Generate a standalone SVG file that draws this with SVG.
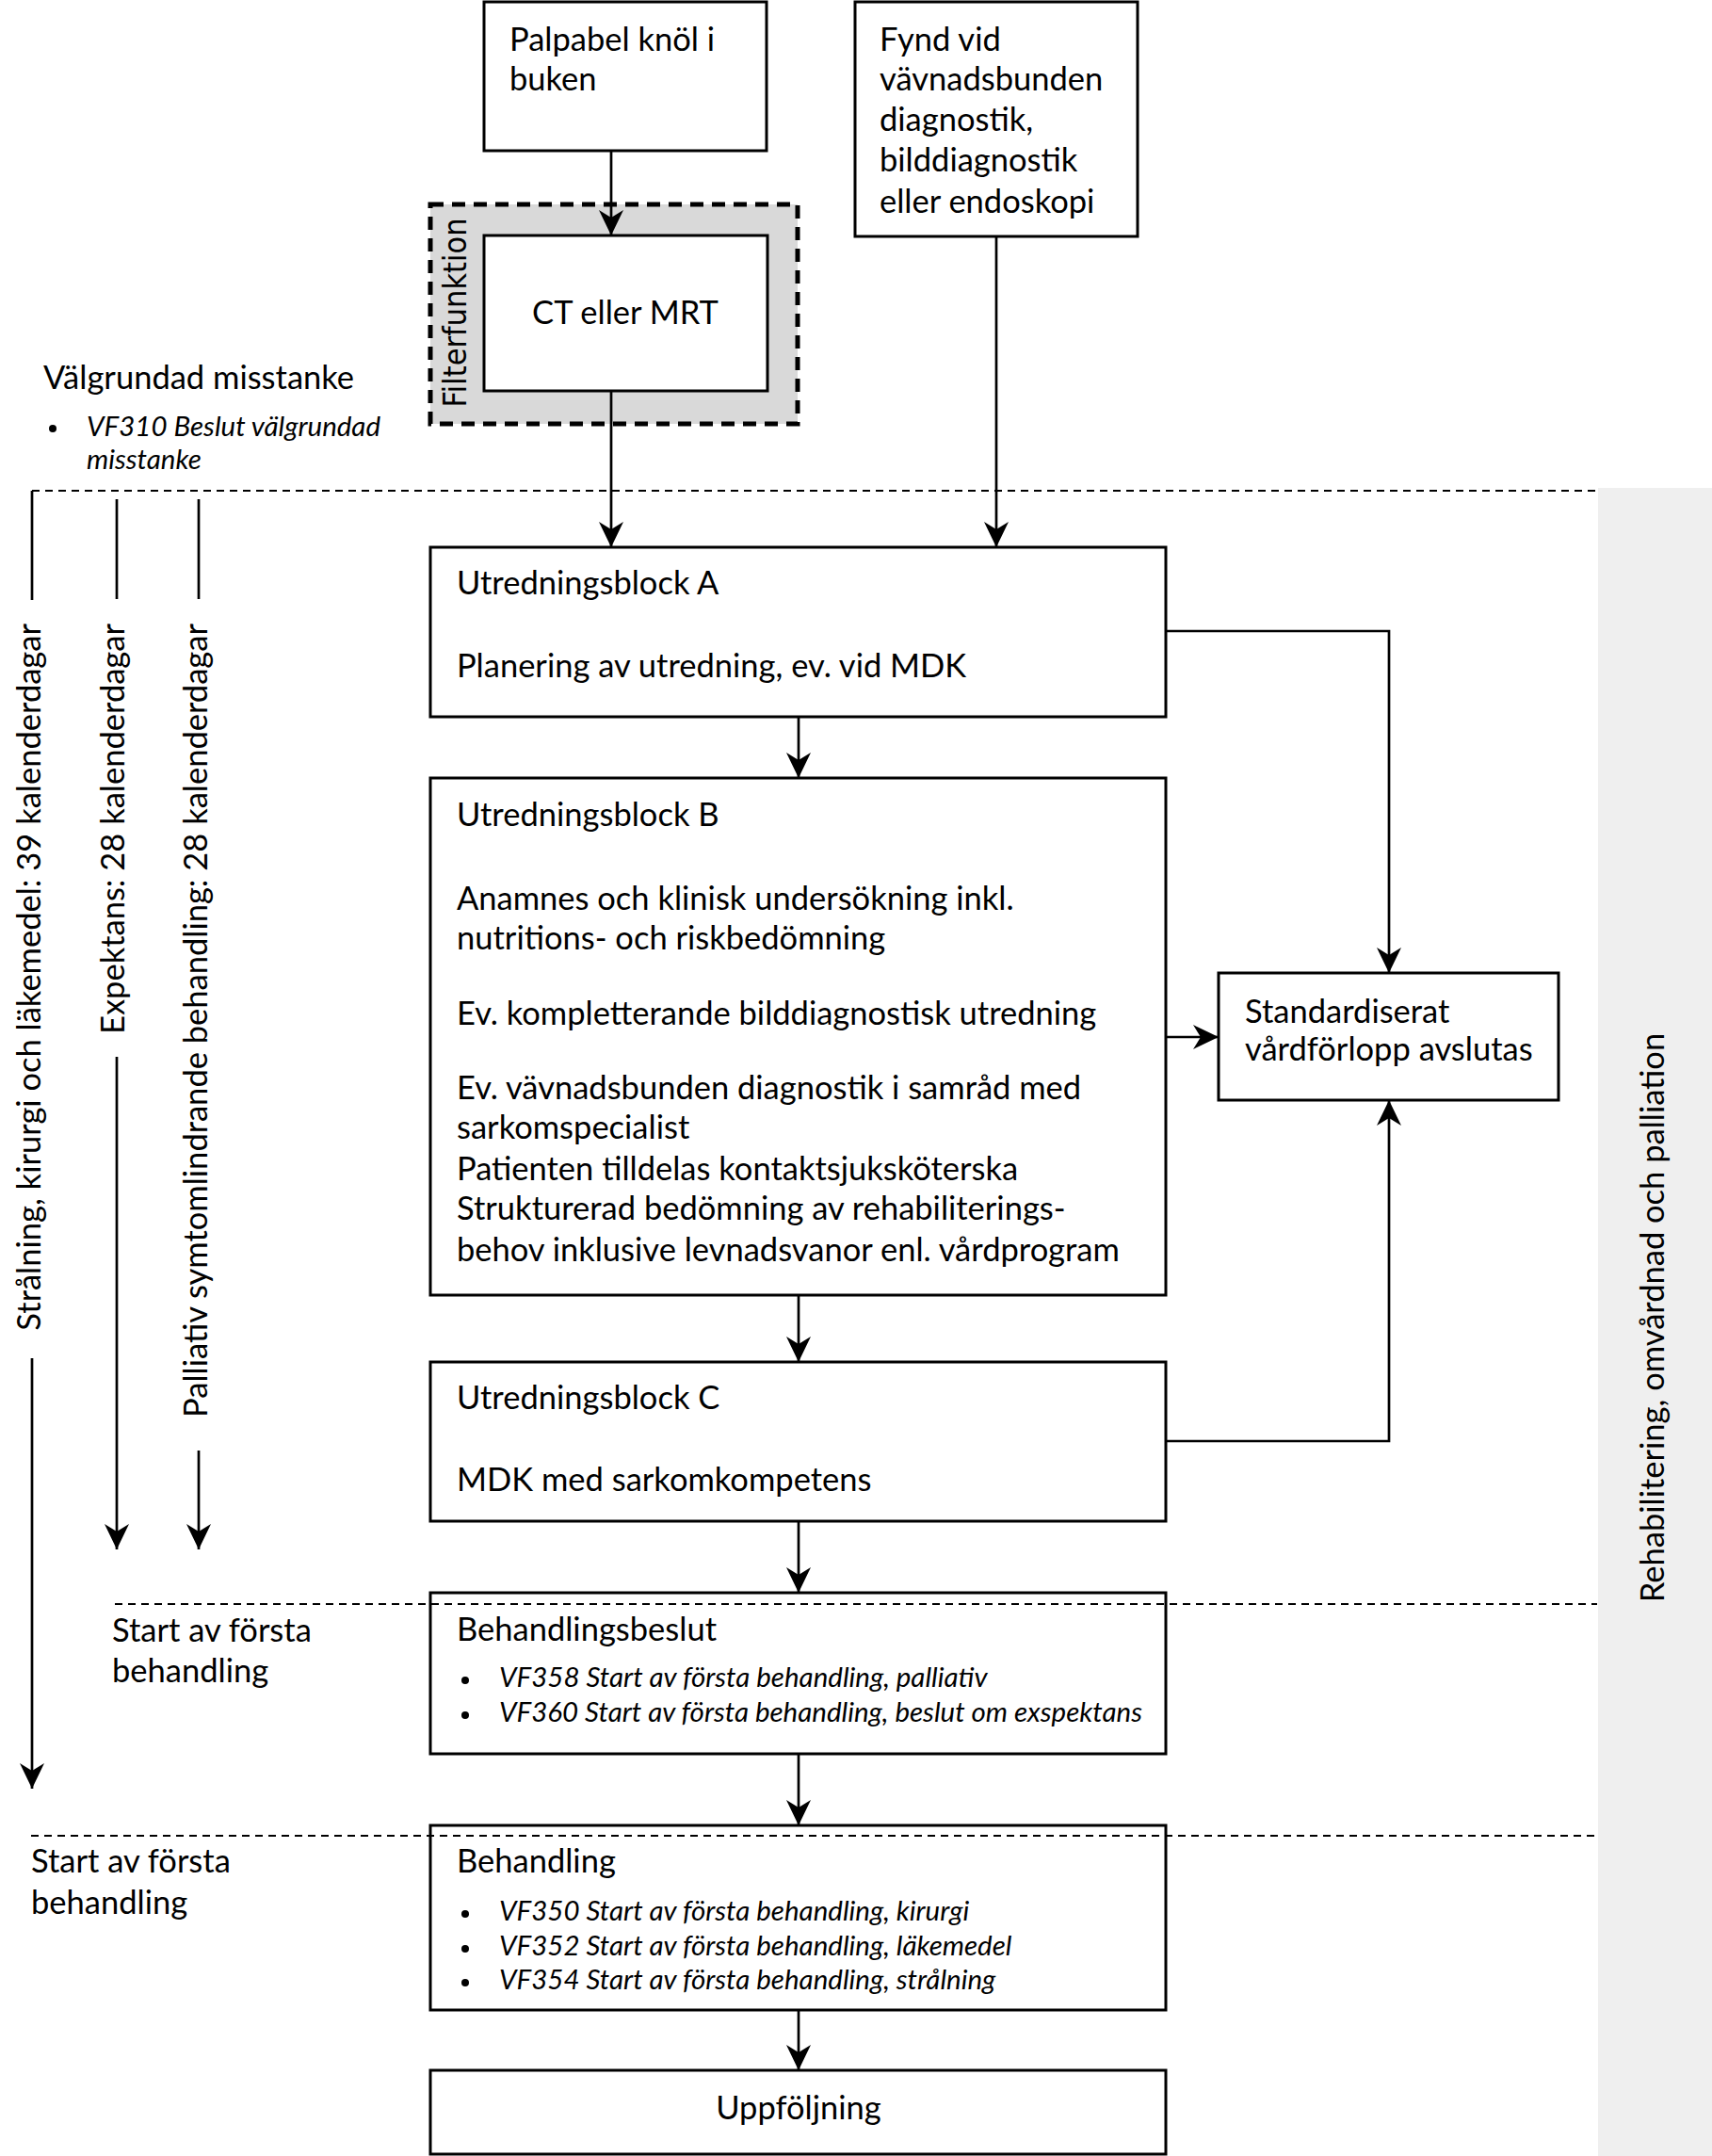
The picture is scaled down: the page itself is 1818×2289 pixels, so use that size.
<svg xmlns="http://www.w3.org/2000/svg" width="1818" height="2289" viewBox="0 0 1818 2289">
<style>
.box{fill:#fff;stroke:#000;stroke-width:3}
.t{font-family:Lato,"Liberation Sans",sans-serif;font-size:34.5px;fill:#000}
.ti{font-family:Lato,"Liberation Sans",sans-serif;font-size:29.5px;font-style:italic;fill:#000}
.c{fill:none;stroke:#000;stroke-width:2.7}
.dash{fill:none;stroke:#000;stroke-width:2;stroke-dasharray:8 6}
</style>
<defs>
<marker id="ah" markerUnits="userSpaceOnUse" markerWidth="30" markerHeight="30" viewBox="-28 -15 30 30" refX="0" refY="0" orient="auto">
<path d="M0,0 L-27,-13 L-19,0 L-27,13 Z" fill="#000"/>
</marker>
</defs>
<rect x="1697" y="518" width="121" height="1771" fill="#efefef"/>
<text class="t" transform="translate(1767,1399) rotate(-90)" text-anchor="middle">Rehabilitering, omvårdnad och palliation</text>

<g id="palpabel"><rect class="box" x="514" y="2" width="300" height="158"/>
<text class="t" x="541" y="54">Palpabel knöl i</text><text class="t" x="541" y="96">buken</text></g>

<g id="fynd"><rect class="box" x="908" y="2" width="300" height="249"/>
<text class="t" x="934" y="54">Fynd vid</text><text class="t" x="934" y="96">vävnadsbunden</text><text class="t" x="934" y="139">diagnostik,</text><text class="t" x="934" y="182">bilddiagnostik</text><text class="t" x="934" y="226">eller endoskopi</text></g>

<g id="filter"><rect x="457" y="217" width="390" height="233" fill="#d9d9d9" stroke="#000" stroke-width="5" stroke-dasharray="14 9"/>
<text transform="translate(495,332) rotate(-90)" text-anchor="middle" font-family="DejaVu Sans,sans-serif" font-size="34" textLength="201" lengthAdjust="spacingAndGlyphs">Filterfunktion</text></g>

<g id="ct"><rect class="box" x="514" y="250" width="301" height="165"/>
<text class="t" x="664" y="344" text-anchor="middle">CT eller MRT</text></g>

<g id="valgrundad"><text class="t" x="46" y="413">Välgrundad misstanke</text>
<circle cx="56" cy="455" r="4"/>
<text class="ti" x="92" y="463">VF310 Beslut välgrundad</text><text class="ti" x="92" y="498">misstanke</text></g>

<g id="blockA"><rect class="box" x="457" y="581" width="781" height="180"/>
<text class="t" x="485" y="631">Utredningsblock A</text><text class="t" x="485" y="719">Planering av utredning, ev. vid MDK</text></g>

<g id="blockB"><rect class="box" x="457" y="826" width="781" height="549"/>
<text class="t" x="485" y="877">Utredningsblock B</text>
<text class="t" x="485" y="966">Anamnes och klinisk undersökning inkl.</text>
<text class="t" x="485" y="1008">nutritions- och riskbedömning</text>
<text class="t" x="485" y="1088">Ev. kompletterande bilddiagnostisk utredning</text>
<text class="t" x="485" y="1167">Ev. vävnadsbunden diagnostik i samråd med</text>
<text class="t" x="485" y="1209">sarkomspecialist</text>
<text class="t" x="485" y="1253">Patienten tilldelas kontaktsjuksköterska</text>
<text class="t" x="485" y="1295">Strukturerad bedömning av rehabiliterings-</text>
<text class="t" x="485" y="1339">behov inklusive levnadsvanor enl. vårdprogram</text></g>

<g id="blockC"><rect class="box" x="457" y="1446" width="781" height="169"/>
<text class="t" x="485" y="1496">Utredningsblock C</text><text class="t" x="485" y="1583">MDK med sarkomkompetens</text></g>

<g id="std"><rect class="box" x="1294" y="1033" width="361" height="135"/>
<text class="t" x="1322" y="1086">Standardiserat</text><text class="t" x="1322" y="1126">vårdförlopp avslutas</text></g>

<g id="beslut"><rect class="box" x="457" y="1691" width="781" height="171"/>
<text class="t" x="485" y="1742">Behandlingsbeslut</text>
<circle cx="494" cy="1784" r="4"/><text class="ti" x="530" y="1791">VF358 Start av första behandling, palliativ</text>
<circle cx="494" cy="1821" r="4"/><text class="ti" x="530" y="1828">VF360 Start av första behandling, beslut om exspektans</text></g>

<g id="behandling"><rect class="box" x="457" y="1938" width="781" height="196"/>
<text class="t" x="485" y="1988">Behandling</text>
<circle cx="494" cy="2032" r="4"/><text class="ti" x="530" y="2039">VF350 Start av första behandling, kirurgi</text>
<circle cx="494" cy="2069" r="4"/><text class="ti" x="530" y="2076">VF352 Start av första behandling, läkemedel</text>
<circle cx="494" cy="2105" r="4"/><text class="ti" x="530" y="2112">VF354 Start av första behandling, strålning</text></g>

<g id="uppfoljning"><rect class="box" x="457" y="2198" width="781" height="89"/>
<text class="t" x="848" y="2250" text-anchor="middle">Uppföljning</text></g>

<g id="labels">
<text class="t" x="119" y="1743">Start av första</text><text class="t" x="119" y="1786">behandling</text>
<text class="t" x="33" y="1988">Start av första</text><text class="t" x="33" y="2032">behandling</text>
<text class="t" transform="translate(43,662) rotate(-90)" text-anchor="end">Strålning, kirurgi och läkemedel: 39 kalenderdagar</text>
<text class="t" transform="translate(132,662) rotate(-90)" text-anchor="end">Expektans: 28 kalenderdagar</text>
<text class="t" transform="translate(220,662) rotate(-90)" text-anchor="end">Palliativ symtomlindrande behandling: 28 kalenderdagar</text>
</g>

<g id="separators">
<path class="dash" d="M34,521 H1696"/>
<path class="dash" d="M122,1703 H1696"/>
<path class="dash" d="M33,1949 H1696"/>
</g>

<g id="connectors">
<path class="c" d="M649,160 V250" marker-end="url(#ah)"/>
<path class="c" d="M649,415 V581" marker-end="url(#ah)"/>
<path class="c" d="M1058,251 V581" marker-end="url(#ah)"/>
<path class="c" d="M848,761 V826" marker-end="url(#ah)"/>
<path class="c" d="M848,1375 V1446" marker-end="url(#ah)"/>
<path class="c" d="M848,1615 V1691" marker-end="url(#ah)"/>
<path class="c" d="M848,1862 V1938" marker-end="url(#ah)"/>
<path class="c" d="M848,2134 V2198" marker-end="url(#ah)"/>
<path class="c" d="M1238,670 H1475 V1033" marker-end="url(#ah)"/>
<path class="c" d="M1238,1101 H1294" marker-end="url(#ah)"/>
<path class="c" d="M1238,1530 H1475 V1168" marker-end="url(#ah)"/>
<path class="c" d="M34,521 V637"/>
<path class="c" d="M34,1442 V1899" marker-end="url(#ah)"/>
<path class="c" d="M124,530 V636"/>
<path class="c" d="M124,1122 V1645" marker-end="url(#ah)"/>
<path class="c" d="M211,530 V636"/>
<path class="c" d="M211,1540 V1645" marker-end="url(#ah)"/>
</g>
</svg>
